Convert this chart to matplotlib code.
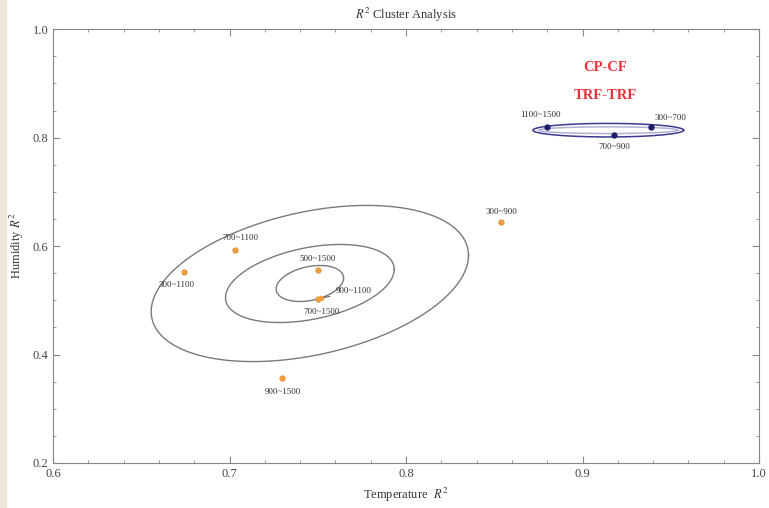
import numpy as np
import matplotlib
matplotlib.use("Agg")
import matplotlib.pyplot as plt
from matplotlib.ticker import MultipleLocator

plt.rcParams["font.family"] = ["Liberation Serif", "DejaVu Serif"]
plt.rcParams["mathtext.fontset"] = "stix"

# -----------------------------
# Data
# -----------------------------
# cluster 1 (orange points)
c1_labels = ["300~1100", "700~1100", "500~1500", "700~1500", "900~1500", "300~900"]
c1_x = [0.674, 0.703, 0.750, 0.750, 0.730, 0.854]
c1_y = [0.552, 0.592, 0.556, 0.502, 0.356, 0.644]
c1_label_dx = [-0.004, 0.003, 0.0, 0.002, 0.0, 0.0]
c1_label_dy = [-0.024, 0.022, 0.020, -0.024, -0.026, 0.019]

# point with leader line
lead_label = "900~1100"
lead_x = 0.752
lead_y = 0.504
lead_text_x = 0.760
lead_text_y = 0.517

# cluster 2 (blue points)
c2_labels = ["1100~1500", "300~700", "700~900"]
c2_x = [0.880, 0.939, 0.918]
c2_y = [0.819, 0.819, 0.804]
c2_label_dx = [-0.004, 0.011, 0.0]
c2_label_dy = [0.022, 0.018, -0.022]

# confidence ellipses: centre, half width, half height, correlation
ell_cx = [0.7455, 0.7455, 0.7455]
ell_cy = [0.531, 0.531, 0.531]
ell_sx = [0.0899, 0.0478, 0.0191]
ell_sy = [0.144, 0.072, 0.0332]
ell_rho = [0.36, 0.36, 0.30]

blue_cx = [0.9146, 0.9146]
blue_cy = [0.8137, 0.8137]
blue_sx = [0.0427, 0.0395]
blue_sy = [0.0125, 0.0062]
blue_col = ["#3a3a90", "#b0b0d8"]

x_ticks = [0.6, 0.7, 0.8, 0.9, 1.0]
y_ticks = [0.2, 0.4, 0.6, 0.8, 1.0]


def ellipse(cx, cy, sx, sy, rho, n=300):
    t = np.linspace(0, 2 * np.pi, n)
    x = cx + sx * np.cos(t)
    y = cy + sy * (rho * np.cos(t) + np.sqrt(1 - rho ** 2) * np.sin(t))
    return x, y


# -----------------------------
# Plot
# -----------------------------
fig = plt.figure(figsize=(7.69, 5.08), dpi=100)
ax = fig.add_axes([0.069, 0.0886, 0.918, 0.854])

for i in range(len(ell_cx)):
    ex, ey = ellipse(ell_cx[i], ell_cy[i], ell_sx[i], ell_sy[i], ell_rho[i])
    ax.plot(ex, ey, color="#7a7a7a", lw=1.0)

for i in range(len(blue_cx)):
    ex, ey = ellipse(blue_cx[i], blue_cy[i], blue_sx[i], blue_sy[i], 0.0)
    ax.plot(ex, ey, color=blue_col[i], lw=1.1)

ax.plot(c1_x, c1_y, "o", color="#f0a040", ms=3.5, mec="#e8963a", zorder=3)
for i, lab in enumerate(c1_labels):
    ax.text(c1_x[i] + c1_label_dx[i], c1_y[i] + c1_label_dy[i], lab,
            fontsize=6.5, color="#333333", ha="center", va="center")

ax.plot([lead_x], [lead_y], "o", color="#f0a040", ms=3, zorder=3)
ax.annotate(lead_label, xy=(lead_x, lead_y), xytext=(lead_text_x, lead_text_y),
            fontsize=6.5, color="#333333", ha="left", va="center",
            arrowprops=dict(arrowstyle="-", color="#555555", lw=0.7))

ax.plot(c2_x, c2_y, "o", color="#1c1c6a", ms=3.5, zorder=3)
for i, lab in enumerate(c2_labels):
    ax.text(c2_x[i] + c2_label_dx[i], c2_y[i] + c2_label_dy[i], lab,
            fontsize=6.5, color="#333333", ha="center", va="center")

ax.text(0.913, 0.930, "CP-CF", color="#e8313a", fontsize=10.5,
        fontweight="bold", ha="center", va="center")
ax.text(0.913, 0.878, "TRF-TRF", color="#e8313a", fontsize=10.5,
        fontweight="bold", ha="center", va="center")

ax.set_xlim(0.6, 1.0)
ax.set_ylim(0.2, 1.0)
ax.set_xticks(x_ticks)
ax.set_xticklabels([f"{v:.1f}" for v in x_ticks])
ax.set_yticks(y_ticks)
ax.set_yticklabels([f"{v:.1f}" for v in y_ticks])
ax.xaxis.set_minor_locator(MultipleLocator(0.02))
ax.yaxis.set_minor_locator(MultipleLocator(0.05))
ax.tick_params(which="both", direction="in", top=True, right=True,
               color="#888888", labelsize=9, labelcolor="#444444")
ax.tick_params(which="major", length=5)
ax.tick_params(which="minor", length=2.5)
for s in ax.spines.values():
    s.set_color("#888888")

ax.set_title(r"$R^2$ Cluster Analysis", fontsize=9, color="#333333", pad=7)
ax.set_xlabel(r"Temperature  $R^2$", fontsize=9, color="#333333", labelpad=4)
ax.set_ylabel(r"Humidity $R^2$", fontsize=9, color="#333333", labelpad=5)

# scanned page edge
fig.patches.append(plt.Rectangle((0, 0), 0.008, 1, transform=fig.transFigure,
                                 color="#efe8d8", zorder=-1))

fig.savefig("out.png", dpi=100)
